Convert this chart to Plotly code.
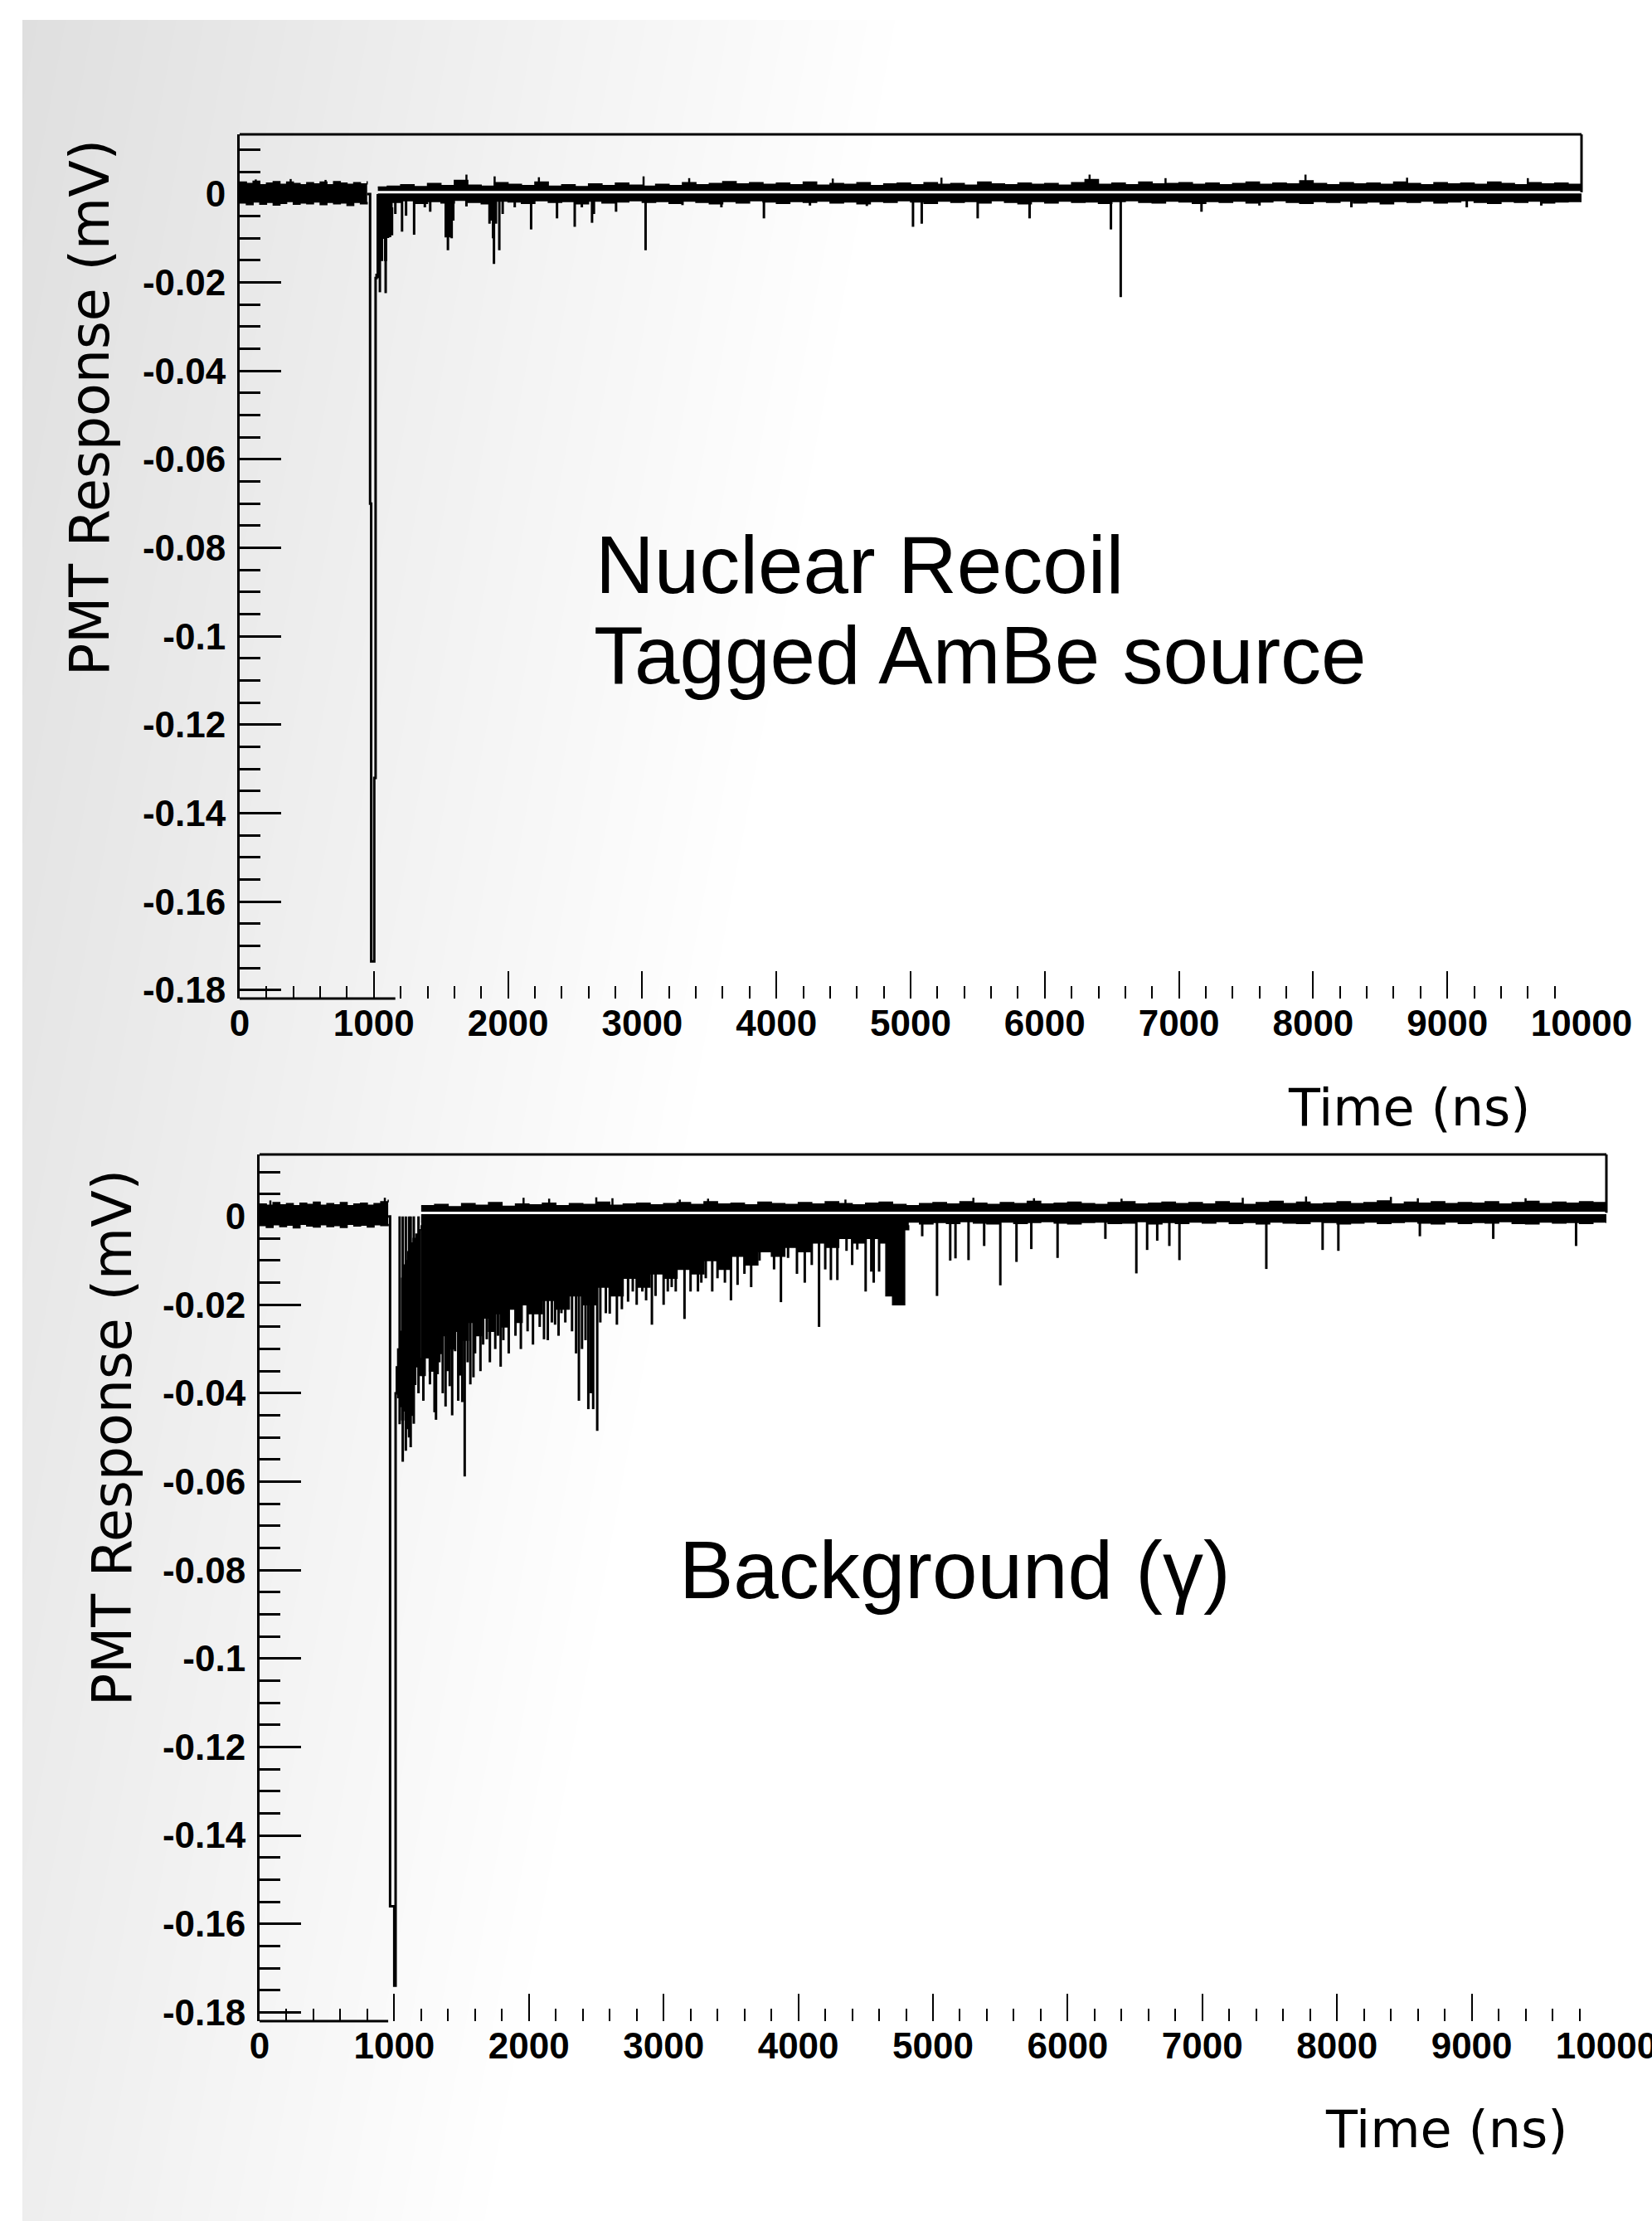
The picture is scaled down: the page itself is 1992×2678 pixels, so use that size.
import base64
import struct
import zlib

import numpy as np
import plotly.graph_objects as go

W, H = 1992, 2678

# ---------------------------------------------------------------- data
x_tick_vals = [0, 1000, 2000, 3000, 4000, 5000, 6000, 7000, 8000, 9000, 10000]
x_tick_text = ["0", "1000", "2000", "3000", "4000", "5000", "6000", "7000", "8000", "9000", "10000"]
y_tick_vals = [0, -0.02, -0.04, -0.06, -0.08, -0.1, -0.12, -0.14, -0.16, -0.18]
y_tick_text = ["0", "-0.02", "-0.04", "-0.06", "-0.08", "-0.1", "-0.12", "-0.14", "-0.16", "-0.18"]

# ---- top panel: Nuclear Recoil, tagged AmBe source
top_pre_t = [0, 50, 100, 150, 200, 250, 300, 350, 400, 450, 500, 550, 600, 650, 700, 750, 800, 850, 900, 950]
top_pre_hi = [0.0027, 0.0024, 0.0029, 0.0021, 0.0025, 0.0028, 0.0022, 0.0027, 0.0024, 0.0021,
              0.0026, 0.0023, 0.0027, 0.0021, 0.0028, 0.0025, 0.0022, 0.0026, 0.0023, 0.0029]
top_pre_lo = [-0.0020, -0.0024, -0.0018, -0.0023, -0.0019, -0.0025, -0.0021, -0.0017, -0.0023, -0.0020,
              -0.0022, -0.0018, -0.0024, -0.0019, -0.0022, -0.0020, -0.0026, -0.0019, -0.0022, -0.0018]

top_post_t = [1030, 1100, 1200, 1300, 1400, 1500, 1600, 1700, 1800, 1900,
              2000, 2100, 2200, 2300, 2400, 2500, 2600, 2700, 2800, 2900,
              3000, 3100, 3200, 3300, 3400, 3500, 3600, 3700, 3800, 3900,
              4000, 4100, 4200, 4300, 4400, 4500, 4600, 4700, 4800, 4900,
              5000, 5100, 5200, 5300, 5400, 5500, 5600, 5700, 5800, 5900,
              6000, 6100, 6200, 6300, 6400, 6500, 6600, 6700, 6800, 6900,
              7000, 7100, 7200, 7300, 7400, 7500, 7600, 7700, 7800, 7900,
              8000, 8100, 8200, 8300, 8400, 8500, 8600, 8700, 8800, 8900,
              9000, 9100, 9200, 9300, 9400, 9500, 9600, 9700, 9800, 9900,
              10000]
top_post_hi = [0.0016, 0.0018, 0.0021, 0.0017, 0.0024, 0.0019, 0.0031, 0.0020, 0.0018, 0.0026,
               0.0022, 0.0019, 0.0027, 0.0018, 0.0021, 0.0017, 0.0023, 0.0019, 0.0025, 0.0020,
               0.0018, 0.0022, 0.0019, 0.0026, 0.0021, 0.0024, 0.0028, 0.0023, 0.0026, 0.0022,
               0.0025, 0.0021, 0.0027, 0.0020, 0.0024, 0.0022, 0.0026, 0.0019, 0.0023, 0.0025,
               0.0021, 0.0026, 0.0022, 0.0024, 0.0020, 0.0027, 0.0023, 0.0021, 0.0025, 0.0022,
               0.0024, 0.0020, 0.0026, 0.0033, 0.0022, 0.0025, 0.0021, 0.0027, 0.0023, 0.0024,
               0.0026, 0.0022, 0.0025, 0.0021, 0.0024, 0.0027, 0.0022, 0.0025, 0.0023, 0.0030,
               0.0024, 0.0021, 0.0026, 0.0023, 0.0025, 0.0022, 0.0027, 0.0024, 0.0021, 0.0026,
               0.0023, 0.0025, 0.0022, 0.0027, 0.0024, 0.0021, 0.0026, 0.0023, 0.0025, 0.0022,
               0.0024]
top_post_lo = [-0.0016, -0.0019, -0.0015, -0.0021, -0.0017, -0.0020, -0.0014, -0.0019, -0.0022, -0.0016,
               -0.0018, -0.0021, -0.0015, -0.0019, -0.0017, -0.0022, -0.0016, -0.0020, -0.0018, -0.0015,
               -0.0019, -0.0017, -0.0021, -0.0016, -0.0019, -0.0022, -0.0017, -0.0020, -0.0015, -0.0018,
               -0.0021, -0.0017, -0.0019, -0.0016, -0.0020, -0.0018, -0.0022, -0.0017, -0.0019, -0.0015,
               -0.0018, -0.0021, -0.0016, -0.0019, -0.0017, -0.0020, -0.0015, -0.0019, -0.0022, -0.0017,
               -0.0020, -0.0016, -0.0019, -0.0018, -0.0021, -0.0017, -0.0015, -0.0019, -0.0020, -0.0016,
               -0.0018, -0.0021, -0.0017, -0.0019, -0.0016, -0.0020, -0.0018, -0.0015, -0.0019, -0.0021,
               -0.0017, -0.0019, -0.0016, -0.0020, -0.0018, -0.0022, -0.0017, -0.0019, -0.0016, -0.0020,
               -0.0018, -0.0015, -0.0019, -0.0021, -0.0017, -0.0019, -0.0016, -0.0020, -0.0018, -0.0017,
               -0.0018]

top_pulse_t = [950, 972, 980, 1003, 1013, 1020]
top_pulse_v = [0.0, -0.070, -0.1735, -0.132, -0.019, -0.018]

top_block_t = [1020, 1035, 1050, 1065, 1080, 1095, 1110, 1125, 1140]
top_block_v = [-0.0180, -0.0120, -0.0150, -0.0100, -0.0150, -0.0098, -0.0096, -0.0092, -0.0030]

top_spk_t = [1030, 1045, 1088, 1160, 1210, 1240, 1300, 1380, 1420, 1536, 1552, 1566, 1580, 1592, 1690,
             1862, 1875, 1888, 1895, 1910, 1935, 1960, 2050, 2172, 2365, 2497, 2550, 2626, 2640, 2805,
             3025, 3300, 3590, 3907, 4250, 4674, 5018, 5083, 5500, 5887, 6493, 6566, 7168, 7600, 8285,
             9145, 9700]
top_spk_v = [-0.0190, -0.0222, -0.0224, -0.0045, -0.0085, -0.0049, -0.0092, -0.0030, -0.0040, -0.0098,
             -0.0127, -0.0098, -0.0100, -0.0060, -0.0028, -0.0067, -0.0060, -0.0100, -0.0158, -0.0067,
             -0.0127, -0.0045, -0.0030, -0.0080, -0.0055, -0.0074, -0.0030, -0.0065, -0.0045, -0.0040,
             -0.0127, -0.0025, -0.0030, -0.0055, -0.0026, -0.0027, -0.0074, -0.0067, -0.0055, -0.0055,
             -0.0080, -0.0233, -0.0040, -0.0026, -0.0030, -0.0030, -0.0026]
top_up_t = [120, 380, 640, 1690, 1900, 2230, 3010, 3350, 4420, 5230, 6334, 6900, 7943, 8700, 9600]
top_up_v = [0.0033, 0.0034, 0.0032, 0.0044, 0.0040, 0.0038, 0.0040, 0.0036, 0.0035, 0.0037,
            0.0044, 0.0036, 0.0044, 0.0037, 0.0036]

top_sep_t = [1027, 10000]
top_sep_v = [0.0004, 0.0004]

# ---- bottom panel: Background (gamma)
bot_pre_t = [0, 50, 100, 150, 200, 250, 300, 350, 400, 450, 500, 550, 600, 650, 700, 750, 800, 850, 900, 955]
bot_pre_hi = [0.0028, 0.0025, 0.0031, 0.0026, 0.0029, 0.0024, 0.0030, 0.0027, 0.0032, 0.0025,
              0.0029, 0.0026, 0.0031, 0.0024, 0.0028, 0.0030, 0.0025, 0.0029, 0.0033, 0.0038]
bot_pre_lo = [-0.0021, -0.0025, -0.0019, -0.0023, -0.0020, -0.0026, -0.0018, -0.0022, -0.0024, -0.0019,
              -0.0023, -0.0021, -0.0025, -0.0018, -0.0022, -0.0020, -0.0024, -0.0019, -0.0021, -0.0017]

bot_post_t = [1200, 1300, 1400, 1500, 1600, 1700, 1800, 1900,
              2000, 2100, 2200, 2300, 2400, 2500, 2600, 2700, 2800, 2900,
              3000, 3100, 3200, 3300, 3400, 3500, 3600, 3700, 3800, 3900,
              4000, 4100, 4200, 4300, 4400, 4500, 4600, 4700, 4800, 4900,
              5000, 5100, 5200, 5300, 5400, 5500, 5600, 5700, 5800, 5900,
              6000, 6100, 6200, 6300, 6400, 6500, 6600, 6700, 6800, 6900,
              7000, 7100, 7200, 7300, 7400, 7500, 7600, 7700, 7800, 7900,
              8000, 8100, 8200, 8300, 8400, 8500, 8600, 8700, 8800, 8900,
              9000, 9100, 9200, 9300, 9400, 9500, 9600, 9700, 9800, 9900,
              10000]
bot_post_hi = [0.0024, 0.0027, 0.0022, 0.0029, 0.0025, 0.0031, 0.0023, 0.0028,
               0.0026, 0.0030, 0.0024, 0.0029, 0.0027, 0.0032, 0.0025, 0.0028, 0.0030, 0.0026,
               0.0029, 0.0031, 0.0027, 0.0033, 0.0028, 0.0030, 0.0026, 0.0032, 0.0029, 0.0027,
               0.0031, 0.0028, 0.0033, 0.0029, 0.0026, 0.0030, 0.0032, 0.0027, 0.0024, 0.0029,
               0.0031, 0.0028, 0.0033, 0.0030, 0.0027, 0.0031, 0.0029, 0.0034, 0.0028, 0.0030,
               0.0032, 0.0029, 0.0027, 0.0031, 0.0033, 0.0028, 0.0030, 0.0032, 0.0029, 0.0031,
               0.0028, 0.0033, 0.0030, 0.0027, 0.0031, 0.0034, 0.0029, 0.0032, 0.0028, 0.0030,
               0.0033, 0.0029, 0.0031, 0.0035, 0.0028, 0.0032, 0.0030, 0.0033, 0.0029, 0.0031,
               0.0030, 0.0033, 0.0028, 0.0031, 0.0034, 0.0029, 0.0032, 0.0030, 0.0033, 0.0031,
               0.0030]
bot_post_lo = [-0.0013, -0.0016, -0.0012, -0.0017, -0.0014, -0.0015, -0.0012, -0.0016,
               -0.0014, -0.0017, -0.0013, -0.0015, -0.0016, -0.0012, -0.0017, -0.0014, -0.0013, -0.0016,
               -0.0015, -0.0012, -0.0017, -0.0014, -0.0016, -0.0013, -0.0015, -0.0017, -0.0012, -0.0014,
               -0.0016, -0.0013, -0.0015, -0.0018, -0.0014, -0.0012, -0.0016, -0.0015, -0.0013, -0.0017,
               -0.0014, -0.0016, -0.0012, -0.0015, -0.0017, -0.0013, -0.0016, -0.0014, -0.0012, -0.0015,
               -0.0017, -0.0014, -0.0013, -0.0016, -0.0015, -0.0012, -0.0017, -0.0014, -0.0016, -0.0013,
               -0.0015, -0.0012, -0.0016, -0.0014, -0.0017, -0.0013, -0.0015, -0.0016, -0.0012, -0.0014,
               -0.0017, -0.0015, -0.0013, -0.0016, -0.0014, -0.0012, -0.0015, -0.0017, -0.0013, -0.0016,
               -0.0014, -0.0015, -0.0012, -0.0016, -0.0017, -0.0013, -0.0015, -0.0014, -0.0016, -0.0013,
               -0.0015]

bot_pulse_t = [955, 969, 1000, 1010, 1020]
bot_pulse_v = [0.0, -0.156, -0.174, -0.040, -0.034]

bot_early_t = [1010, 1025, 1040, 1055, 1070, 1085, 1100, 1120, 1140, 1160, 1180, 1200]
bot_early_top = [-0.034, -0.030, -0.026, -0.014, -0.011, -0.010, -0.008, -0.006, -0.005, -0.004, -0.003, -0.002]
bot_early_bot = [-0.040, -0.041, -0.043, -0.046, -0.044, -0.048, -0.042, -0.045, -0.038, -0.034, -0.036, -0.032]

bot_dense_t = [1200, 1230, 1260, 1290, 1320, 1350, 1400, 1450, 1500, 1550, 1600, 1650, 1700, 1750,
               1800, 1850, 1900, 1950, 2000, 2100, 2200, 2300, 2400, 2500, 2600, 2700, 2800, 2900,
               3000, 3100, 3200, 3300, 3400, 3500, 3600, 3700, 3800, 3900, 4000, 4100, 4200, 4300,
               4400, 4500, 4600, 4650, 4700, 4790, 4820]
bot_dense_v = [-0.036, -0.032, -0.035, -0.029, -0.031, -0.027, -0.030, -0.026, -0.028, -0.024, -0.027,
               -0.023, -0.026, -0.022, -0.025, -0.021, -0.024, -0.020, -0.022, -0.019, -0.021, -0.018,
               -0.020, -0.016, -0.018, -0.014, -0.016, -0.013, -0.014, -0.012, -0.013, -0.010, -0.012,
               -0.009, -0.011, -0.008, -0.009, -0.007, -0.008, -0.006, -0.007, -0.005, -0.006, -0.005,
               -0.006, -0.018, -0.020, -0.003, -0.002]

bot_spk_t = [1040, 1063, 1086, 1110, 1122, 1145, 1180, 1216, 1251, 1265,
             1299, 1310, 1322, 1335, 1346, 1360, 1381, 1395, 1412, 1430,
             1452, 1475, 1490, 1505, 1523, 1545, 1565, 1588, 1600, 1617,
             1640, 1660, 1687, 1710, 1734, 1750, 1770, 1790, 1810, 1829,
             1850, 1876, 1900, 1923, 1940, 1970, 1990, 2005, 2030, 2053,
             2080, 2112, 2140, 2170, 2194, 2220, 2241, 2270, 2288, 2320,
             2350, 2371, 2394, 2420, 2441, 2460, 2477, 2507, 2530, 2571,
             2600, 2653, 2690, 2736, 2771, 2800, 2842, 2870, 2913, 2940,
             2960, 3000, 3031, 3060, 3090, 3155, 3200, 3255, 3280, 3313,
             3361, 3400, 3455, 3500, 3549, 3600, 3650, 3712, 3765, 3820,
             3871, 3924, 3990, 4048, 4100, 4154, 4200, 4242, 4290, 4358,
             4400, 4438, 4500, 4542, 4560, 4600, 4670, 4750, 4920, 5030,
             5128, 5167, 5264, 5380, 5500, 5620, 5730, 5925, 6280, 6510,
             6590, 6665, 6755, 6830, 7475, 7893, 8010, 8615, 9160, 9775]
bot_spk_v = [-0.0470, -0.0555, -0.0530, -0.0500, -0.0522, -0.0469, -0.0400, -0.0417, -0.0300, -0.0380,
             -0.0443, -0.0460, -0.0357, -0.0330, -0.0280, -0.0400, -0.0430, -0.0350, -0.0384, -0.0450,
             -0.0305, -0.0417, -0.0360, -0.0420, -0.0588, -0.0330, -0.0380, -0.0364, -0.0310, -0.0200,
             -0.0350, -0.0290, -0.0278, -0.0330, -0.0240, -0.0300, -0.0270, -0.0340, -0.0280, -0.0219,
             -0.0310, -0.0150, -0.0270, -0.0219, -0.0300, -0.0180, -0.0260, -0.0193, -0.0290, -0.0150,
             -0.0250, -0.0278, -0.0280, -0.0240, -0.0245, -0.0270, -0.0219, -0.0240, -0.0210, -0.0260,
             -0.0310, -0.0417, -0.0300, -0.0280, -0.0436, -0.0400, -0.0436, -0.0485, -0.0240, -0.0219,
             -0.0220, -0.0245, -0.0210, -0.0193, -0.0170, -0.0200, -0.0170, -0.0190, -0.0245, -0.0180,
             -0.0120, -0.0200, -0.0170, -0.0160, -0.0170, -0.0232, -0.0170, -0.0170, -0.0150, -0.0140,
             -0.0170, -0.0140, -0.0150, -0.0190, -0.0155, -0.0130, -0.0160, -0.0100, -0.0075, -0.0120,
             -0.0194, -0.0094, -0.0130, -0.0150, -0.0110, -0.0250, -0.0120, -0.0144, -0.0144, -0.0078,
             -0.0110, -0.0075, -0.0170, -0.0125, -0.0150, -0.0125, -0.0180, -0.0200, -0.0045, -0.0180,
             -0.0100, -0.0095, -0.0099, -0.0067, -0.0156, -0.0103, -0.0074, -0.0094, -0.0051, -0.0129,
             -0.0076, -0.0055, -0.0067, -0.0099, -0.0119, -0.0076, -0.0078, -0.0045, -0.0051, -0.0067]
bot_up_t = [80, 930, 1960, 2150, 2500, 2620, 3120, 3330, 4350, 5300, 5750, 6400, 7300, 7770, 8400, 8600, 9400]
bot_up_v = [0.0036, 0.0042, 0.0042, 0.0040, 0.0043, 0.0041, 0.0038, 0.0040, 0.0038, 0.0042,
            0.0041, 0.0040, 0.0042, 0.0045, 0.0044, 0.0041, 0.0041]

bot_sep_t = [1190, 10000]
bot_sep_v = [0.0008, 0.0008]

# axis ranges / frame pieces (the reference frame is only partly drawn)
x_range = [0, 10000]
top_y_range = [-0.1819, 0.0135]
bot_y_range = [-0.182, 0.014]
top_xline_end = 1160
bot_xline_end = 955


# ---------------------------------------------------------------- background image
def gradient_png():
    xs = np.arange(W, dtype=float)[None, :]
    ys = np.arange(H, dtype=float)[:, None]
    g = 222 + 30 * xs / 1000 + 15 * ys / H
    g = np.clip(np.round(g), 0, 255).astype(np.uint8)
    g[:24, :] = 255
    g[:, :27] = 255
    raw = np.concatenate([np.zeros((H, 1), np.uint8), g], axis=1).tobytes()

    def chunk(tag, data):
        return struct.pack(">I", len(data)) + tag + data + struct.pack(">I", zlib.crc32(tag + data) & 0xFFFFFFFF)

    png = (b"\x89PNG\r\n\x1a\n"
           + chunk(b"IHDR", struct.pack(">IIBBBBB", W, H, 8, 0, 0, 0, 0))
           + chunk(b"IDAT", zlib.compress(raw, 9))
           + chunk(b"IEND", b""))
    return "data:image/png;base64," + base64.b64encode(png).decode()


def segs(ts, vs, base):
    xs, ys = [], []
    for t, v in zip(ts, vs):
        xs += [t, t, None]
        ys += [base, v, None]
    return xs, ys


fig = go.Figure()
BLACK = "black"


def add_band(t, hi, lo, xa, ya):
    fig.add_trace(go.Scatter(x=t, y=lo, mode="lines", line=dict(color=BLACK, width=1.5, shape="hv"),
                             xaxis=xa, yaxis=ya, showlegend=False, hoverinfo="skip"))
    fig.add_trace(go.Scatter(x=t, y=hi, mode="lines", line=dict(color=BLACK, width=1.5, shape="hv"),
                             fill="tonexty", fillcolor=BLACK, xaxis=xa, yaxis=ya,
                             showlegend=False, hoverinfo="skip"))


def add_panel(xa, ya, pre, post, pulse, spk, up):
    add_band(*pre, xa, ya)
    add_band(*post, xa, ya)
    sx, sy = segs(spk[0], spk[1], 0.0)
    fig.add_trace(go.Scatter(x=sx, y=sy, mode="lines", line=dict(color=BLACK, width=3),
                             xaxis=xa, yaxis=ya, showlegend=False, hoverinfo="skip"))
    ux, uy = segs(up[0], up[1], 0.0)
    fig.add_trace(go.Scatter(x=ux, y=uy, mode="lines", line=dict(color=BLACK, width=2.5),
                             xaxis=xa, yaxis=ya, showlegend=False, hoverinfo="skip"))
    fig.add_trace(go.Scatter(x=pulse[0], y=pulse[1], mode="lines",
                             line=dict(color=BLACK, width=3, shape="hv"),
                             xaxis=xa, yaxis=ya, showlegend=False, hoverinfo="skip"))


# top panel
fig.add_trace(go.Scatter(x=top_block_t, y=top_block_v, mode="lines", fill="tozeroy", fillcolor=BLACK,
                         line=dict(color=BLACK, width=1.5, shape="hv"), xaxis="x", yaxis="y",
                         showlegend=False, hoverinfo="skip"))
add_panel("x", "y", (top_pre_t, top_pre_hi, top_pre_lo), (top_post_t, top_post_hi, top_post_lo),
          (top_pulse_t, top_pulse_v), (top_spk_t, top_spk_v), (top_up_t, top_up_v))
fig.add_trace(go.Scatter(x=top_sep_t, y=top_sep_v, mode="lines", line=dict(color="white", width=3),
                         xaxis="x", yaxis="y", showlegend=False, hoverinfo="skip"))

# bottom panel
fig.add_trace(go.Scatter(x=bot_early_t, y=bot_early_bot, mode="lines",
                         line=dict(color=BLACK, width=1.5, shape="hv"), xaxis="x2", yaxis="y2",
                         showlegend=False, hoverinfo="skip"))
fig.add_trace(go.Scatter(x=bot_early_t, y=bot_early_top, mode="lines", fill="tonexty", fillcolor=BLACK,
                         line=dict(color=BLACK, width=1.5, shape="hv"), xaxis="x2", yaxis="y2",
                         showlegend=False, hoverinfo="skip"))
fig.add_trace(go.Scatter(x=bot_dense_t, y=bot_dense_v, mode="lines", fill="tozeroy", fillcolor=BLACK,
                         line=dict(color=BLACK, width=1.5, shape="hv"), xaxis="x2", yaxis="y2",
                         showlegend=False, hoverinfo="skip"))
add_panel("x2", "y2", (bot_pre_t, bot_pre_hi, bot_pre_lo), (bot_post_t, bot_post_hi, bot_post_lo),
          (bot_pulse_t, bot_pulse_v), (bot_spk_t, bot_spk_v), (bot_up_t, bot_up_v))
fig.add_trace(go.Scatter(x=bot_sep_t, y=bot_sep_v, mode="lines", line=dict(color="white", width=3),
                         xaxis="x2", yaxis="y2", showlegend=False, hoverinfo="skip"))

# ---------------------------------------------------------------- axes
tick_font = dict(family="Liberation Sans, Arial, sans-serif", size=44, color="black", weight="bold")


def xaxis_cfg(domain, anchor):
    return dict(domain=domain, anchor=anchor, range=x_range, showline=False, zeroline=False,
                showgrid=False, automargin=False, ticklabeloverflow="allow", tickmode="array",
                tickvals=x_tick_vals, ticktext=x_tick_text, ticks="inside", ticklen=33, tickwidth=2,
                tickcolor="black", tickfont=tick_font,
                minor=dict(tickmode="linear", tick0=0, dtick=200, ticks="inside", ticklen=15,
                           tickwidth=2, tickcolor="black", showgrid=False))


def yaxis_cfg(domain, anchor, rng):
    return dict(domain=domain, anchor=anchor, range=rng, showline=True, linewidth=3, linecolor="black",
                mirror=False, zeroline=False, showgrid=False, automargin=False, tickmode="array",
                tickvals=y_tick_vals, ticktext=y_tick_text, ticks="inside", ticklen=50, tickwidth=3,
                tickcolor="black", tickfont=tick_font, ticklabelstandoff=5,
                minor=dict(tickmode="linear", tick0=0, dtick=0.005, ticks="inside", ticklen=25,
                           tickwidth=3, tickcolor="black", showgrid=False))


fig.update_layout(
    width=W, height=H, margin=dict(l=0, r=0, t=0, b=0, pad=0, autoexpand=False),
    paper_bgcolor="white", plot_bgcolor="rgba(0,0,0,0)",
    xaxis=xaxis_cfg([289 / W, 1907 / W], "y"),
    yaxis=yaxis_cfg([1 - 1204 / H, 1 - 162 / H], "x", top_y_range),
    xaxis2=xaxis_cfg([313 / W, 1937 / W], "y2"),
    yaxis2=yaxis_cfg([1 - 2437 / H, 1 - 1392 / H], "x2", bot_y_range),
    images=[dict(source=gradient_png(), xref="paper", yref="paper", x=0, y=1, sizex=1, sizey=1,
                 xanchor="left", yanchor="top", sizing="stretch", layer="below")],
)

# partial frame lines as in the reference
shapes = []
for xa, ya, rng, sep, xend in (("x", "y", top_y_range, top_sep_v[0], top_xline_end),
                               ("x2", "y2", bot_y_range, bot_sep_v[0], bot_xline_end)):
    ln = dict(color="black", width=3)
    shapes.append(dict(type="line", xref=f"{xa} domain", yref=f"{ya} domain", x0=0, x1=1, y0=1, y1=1, line=ln))
    shapes.append(dict(type="line", xref=f"{xa} domain", yref=ya, x0=1, x1=1, y0=sep, y1=rng[1], line=ln))
    shapes.append(dict(type="line", xref=xa, yref=f"{ya} domain", x0=0, x1=xend, y0=0, y1=0, line=ln))
fig.update_layout(shapes=shapes)

label_font = dict(family="Liberation Sans, Arial, sans-serif", size=98, color="black")
title_font = dict(family="DejaVu Sans, Verdana, sans-serif", size=62, color="black")
ytitle_font = dict(family="DejaVu Sans, Verdana, sans-serif", size=65, color="black")
ann = [
    dict(text="Nuclear Recoil", x=716 / W, y=1 - 681 / H, xanchor="left", yanchor="middle", font=label_font),
    dict(text="Tagged AmBe source", x=714 / W, y=1 - 790 / H, xanchor="left", yanchor="middle", font=label_font),
    dict(text="Background (\u03b3)", x=817 / W, y=1 - 1893 / H, xanchor="left", yanchor="middle", font=label_font),
    dict(text="Time (ns)", x=1699 / W, y=1 - 1335 / H, xanchor="center", yanchor="middle", font=title_font),
    dict(text="Time (ns)", x=1744 / W, y=1 - 2567 / H, xanchor="center", yanchor="middle", font=title_font),
    dict(text="PMT Response (mV)", x=108 / W, y=1 - 492 / H, xanchor="center", yanchor="middle",
         textangle=-90, font=ytitle_font),
    dict(text="PMT Response (mV)", x=135 / W, y=1 - 1734 / H, xanchor="center", yanchor="middle",
         textangle=-90, font=ytitle_font),
]
for a in ann:
    a.update(xref="paper", yref="paper", showarrow=False)
fig.update_layout(annotations=ann)

fig.write_html("out.html", config={"displayModeBar": False},
               post_script="document.body.style.margin='0px';")
